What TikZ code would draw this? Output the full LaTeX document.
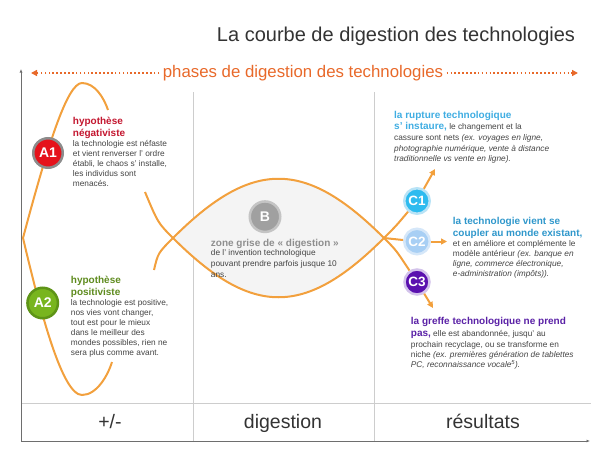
\documentclass[tikz,border=0pt]{standalone}
\usepackage{fontspec}
\setmainfont{Liberation Sans}
\usepackage{xcolor}
\usepackage{tikz}
\usetikzlibrary{arrows.meta}

\definecolor{curveorange}{HTML}{F2A03D}
\definecolor{phaseorange}{HTML}{E8692A}
\definecolor{bodygray}{HTML}{444444}
\definecolor{titlegray}{HTML}{333333}
\definecolor{gridgray}{HTML}{CDCDCD}
\definecolor{axisgray}{HTML}{6E6E6E}
\definecolor{lensgray}{HTML}{F4F4F4}
\definecolor{fillAone}{HTML}{E5121B}
\definecolor{ringAone}{HTML}{8C8C8C}
\definecolor{fillAtwo}{HTML}{78B51E}
\definecolor{ringAtwo}{HTML}{5E9417}
\definecolor{fillB}{HTML}{A0A0A0}
\definecolor{ringB}{HTML}{C4C4C4}
\definecolor{fillCone}{HTML}{2DBBEF}
\definecolor{ringCone}{HTML}{B9E3F6}
\definecolor{fillCtwo}{HTML}{A8CFF4}
\definecolor{ringCtwo}{HTML}{D5E7F9}
\definecolor{fillCthree}{HTML}{5A10AF}
\definecolor{ringCthree}{HTML}{D3C3EB}
\definecolor{headAone}{HTML}{C3162F}
\definecolor{headAtwo}{HTML}{5E8B1E}
\definecolor{headB}{HTML}{8E8E8E}
\definecolor{headCone}{HTML}{3FADE2}
\definecolor{headCtwo}{HTML}{2F97CB}
\definecolor{headCthree}{HTML}{5A21A6}

\newcommand{\headfont}{\fontsize{10}{12}\selectfont\bfseries}

\begin{document}
\begin{tikzpicture}[x=1pt,y=-1pt,
    curve/.style={curveorange,line width=2pt},
    grid line/.style={gridgray,line width=1pt},
    axis line/.style={axisgray,line width=1pt,-{Latex[length=3.5pt,width=3pt]}},
    tip/.style={-{Triangle[length=6pt,width=6pt]}},
    phase line/.style={phaseorange,line width=1.6pt,dash pattern=on 1.6pt off 2.3pt,
      -{Triangle[length=6pt,width=6pt]}},
    bubble/.style={circle,inner sep=0pt,line width=2.5pt,text=white,
      font=\fontsize{14}{14}\selectfont\bfseries},
    textblock/.style={anchor=north west,inner sep=0pt,align=left,text=bodygray},
    collabel/.style={anchor=base,text=titlegray,font=\fontsize{19.5}{22}\selectfont}]

    \useasboundingbox (0,0) rectangle (600,450);

    \node[anchor=base,text=titlegray,font=\fontsize{20}{24}\selectfont] (title)
      at (396,41) {La courbe de digestion des technologies};

    % axes and columns
    \coordinate (origin) at (21,441);
    \coordinate (ytop) at (21,69);
    \coordinate (xend) at (590,441);
    \draw[grid line] (21,403) -- (591,403);
    \foreach \x in {193.5,374.5}{% column separators
      \draw[grid line] (\x,92) -- (\x,441);
    }
    \draw[axis line] (origin) -- (ytop);
    \draw[axis line] (origin) -- (xend);

    \node[collabel] (colA) at (110,428) {+/-};
    \node[collabel] (colB) at (283,428) {digestion};
    \node[collabel] (colC) at (483,428) {résultats};

    % phases arrow
    \node[text=phaseorange,font=\fontsize{16.8}{20}\selectfont] (phases)
      at (303,73) {phases de digestion des technologies};
    \coordinate (phL) at (31,73);
    \coordinate (phR) at (578,73);
    \draw[phase line] (phases.west) -- (phL);
    \draw[phase line] (phases.east) -- (phR);

    % lens of the digestion zone
    \coordinate (lensL) at (173,238);
    \coordinate (lensR) at (384,238);
    \coordinate (tailUp) at (145,192);
    \coordinate (tailLow) at (154,270);
    \fill[lensgray] (lensL) .. controls (252,159) and (305,159) .. (lensR)
      .. controls (305,317) and (252,317) .. (lensL) -- cycle;

    % the two arches on the left
    \coordinate (endUp) at (108,110);
    \coordinate (arcTop) at (82,83);
    \coordinate (cusp) at (23,238);
    \coordinate (arcBot) at (82,395);
    \coordinate (endLow) at (112,362);
    \draw[curve] (endUp) .. controls (104,98) and (95,83) .. (arcTop)
      .. controls (67,83) and (47,148) .. (cusp)
      .. controls (40,310) and (62,395) .. (arcBot)
      .. controls (97,395) and (108,375) .. (endLow);

    \node[bubble,fill=fillAone,draw=ringAone,minimum size=29.5pt] (A1) at (48,153) {A1};
    \node[bubble,fill=fillAtwo,draw=ringAtwo,minimum size=30.5pt] (A2) at (42.7,303) {A2};
    \node[bubble,fill=fillB,draw=ringB,minimum size=30.5pt] (B) at (265,216.7) {B};
    \node[bubble,fill=fillCone,draw=ringCone,minimum size=25.5pt,
      font=\fontsize{13.5}{14}\selectfont\bfseries] (C1) at (417,201) {C1};
    \node[bubble,fill=fillCtwo,draw=ringCtwo,minimum size=25.5pt,
      font=\fontsize{13.5}{14}\selectfont\bfseries] (C2) at (417,241.5) {C2};
    \node[bubble,fill=fillCthree,draw=ringCthree,minimum size=25pt,
      font=\fontsize{13.5}{14}\selectfont\bfseries] (C3) at (417,282) {C3};

    \coordinate (tipC1) at (435,169);
    \coordinate (tipC2) at (447,241.5);
    \coordinate (tipC3) at (433,308);
    \draw[curve] (tailLow) .. controls (158,253) .. (lensL)
      .. controls (252,159) and (305,159) .. (lensR)
      .. controls (396,250) .. (C3);
    \draw[curve] (tailUp) .. controls (158,223) .. (lensL)
      .. controls (252,317) and (305,317) .. (lensR)
      .. controls (396,226) .. (C1);
    \draw[curve] (lensR) -- (C2);
    \draw[curve,tip] (C1) -- (tipC1);
    \draw[curve,tip] (C2) -- (tipC2);
    \draw[curve,tip] (C3) -- (tipC3);

    % texts
    \node[textblock,font=\fontsize{8.3}{10}\selectfont] (txtA1) at (72.7,117.3)
      {{\headfont\color{headAone}hypothèse}\\[1.3pt]
       {\headfont\color{headAone}négativiste}\\[0.5pt]
       la technologie est néfaste\\
       et vient renverser l’ ordre\\
       établi, le chaos s’ installe,\\
       les individus sont\\
       menacés.};
    \node[textblock,font=\fontsize{8.3}{10.1}\selectfont] (txtA2) at (70.7,276.3)
      {{\headfont\color{headAtwo}hypothèse}\\[1.2pt]
       {\headfont\color{headAtwo}positiviste}\\[0.1pt]
       la technologie est positive,\\
       nos vies vont changer,\\
       tout est pour le mieux\\
       dans le meilleur des\\
       mondes possibles, rien ne\\
       sera plus comme avant.};
    \node[textblock,font=\fontsize{8.3}{10.8}\selectfont] (txtB) at (210.7,239)
      {{\headfont\color{headB}zone grise de « digestion »}\\[-1.5pt]
       de l’ invention technologique\\
       pouvant prendre parfois jusque 10\\
       ans.};
    \node[textblock,font=\fontsize{8.3}{10.5}\selectfont] (txtC1) at (394,110.6)
      {{\headfont\color{headCone}la rupture technologique}\\[1.2pt]
       {\headfont\color{headCone}s’ instaure,} le changement et la\\[0.6pt]
       cassure sont nets \textit{(ex. voyages en ligne,}\\
       \textit{photographie numérique, vente à distance}\\
       \textit{traditionnelle vs vente en ligne).}};
    \node[textblock,font=\fontsize{8.3}{10}\selectfont] (txtC2) at (452.7,217.5)
      {{\headfont\color{headCtwo}la technologie vient se}\\[1.6pt]
       {\headfont\color{headCtwo}coupler au monde existant,}\\[0.2pt]
       et en améliore et complémente le\\
       modèle antérieur \textit{(ex. banque en}\\
       \textit{ligne, commerce électronique,}\\
       \textit{e-administration (impôts)).}};
    \node[textblock,font=\fontsize{8.3}{10}\selectfont] (txtC3) at (410.7,317.5)
      {{\headfont\color{headCthree}la greffe technologique ne prend}\\[2pt]
       {\headfont\color{headCthree}pas,} elle est abandonnée, jusqu’ au\\[0.5pt]
       prochain recyclage, ou se transforme en\\
       niche \textit{(ex. premières génération de tablettes}\\
       \textit{PC, reconnaissance vocale\textsuperscript{5}).}};

\end{tikzpicture}
\end{document}
